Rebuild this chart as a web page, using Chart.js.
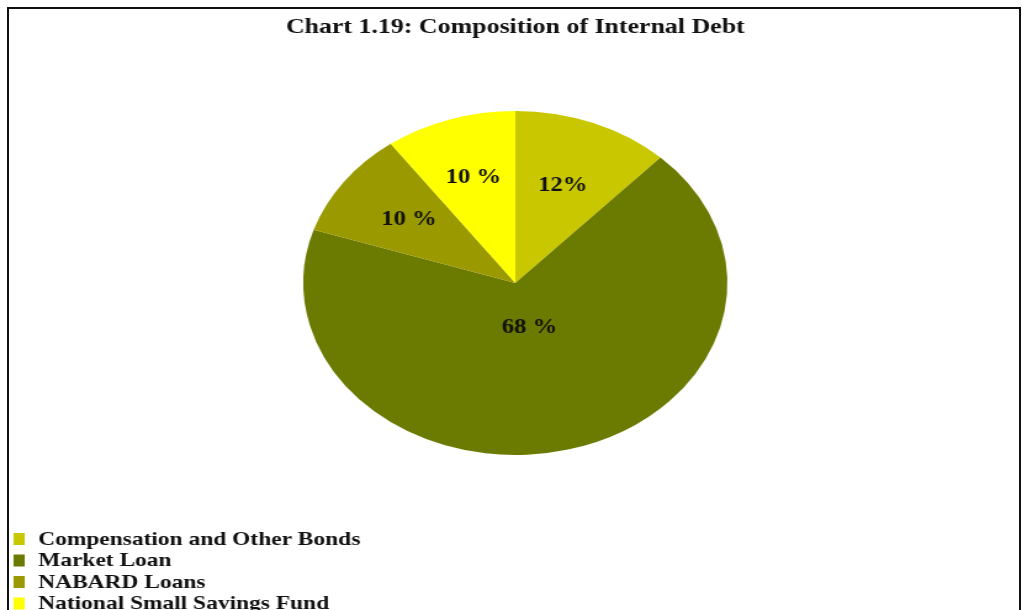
<!DOCTYPE html>
<html>
<head>
<meta charset="utf-8">
<script src="https://cdn.jsdelivr.net/npm/chart.js@4/dist/chart.umd.min.js"></script>
<style>
  html, body { margin: 0; padding: 0; background: #ffffff; }
  #wrap { position: relative; width: 1022px; height: 610px; overflow: hidden; }
  #chart { position: absolute; left: 0; top: 0; }
  #frame { position: absolute; left: 7px; top: 7px; width: 1014px; height: 640px;
           border: 2px solid #111; box-sizing: border-box; pointer-events: none; }
</style>
</head>
<body>
<div id="wrap">
  <canvas id="chart" width="829" height="610" style="width:1022px;height:610px;"></canvas>
  <div id="frame"></div>
</div>
<script>
// Composition of internal debt (per cent of total)
const chartTitle = 'Chart 1.19: Composition of Internal Debt';
const categories = ['Compensation and Other Bonds', 'Market Loan', 'NABARD Loans', 'National Small Savings Fund'];
const shares = [12, 68, 10, 10];
const shareLabels = ['12%', '68 %', '10 %', '10 %'];
const sliceColors = ['#c9c800', '#6b7a00', '#9a9a00', '#ffff00'];
// how far out along each slice's middle the value text sits (fraction of radius)
const labelRadius = [0.61, 0.27, 0.62, 0.64];

const serif = '"Liberation Serif", "Times New Roman", serif';

// value text inside each slice
const sliceLabels = {
  id: 'sliceLabels',
  afterDatasetsDraw(chart) {
    const ctx = chart.ctx;
    const arcs = chart.getDatasetMeta(0).data;
    ctx.save();
    ctx.font = 'bold 20px ' + serif;
    ctx.fillStyle = '#111';
    ctx.textAlign = 'center';
    ctx.textBaseline = 'middle';
    arcs.forEach((arc, i) => {
      const mid = (arc.startAngle + arc.endAngle) / 2;
      const r = arc.outerRadius * labelRadius[i];
      ctx.fillText(shareLabels[i], arc.x + Math.cos(mid) * r, arc.y + Math.sin(mid) * r);
    });
    ctx.restore();
  }
};

// heading and the key in the lower-left corner
const headingAndKey = {
  id: 'headingAndKey',
  afterDraw(chart) {
    const ctx = chart.ctx;
    const arcs = chart.getDatasetMeta(0).data;
    ctx.save();
    ctx.fillStyle = '#111';
    ctx.font = 'bold 21px ' + serif;
    ctx.textAlign = 'center';
    ctx.textBaseline = 'middle';
    ctx.fillText(chartTitle, arcs[0].x, 28);

    ctx.font = 'bold 19px ' + serif;
    ctx.textAlign = 'left';
    categories.forEach((name, i) => {
      const y = 539 + i * 21.5;
      ctx.fillStyle = sliceColors[i];
      ctx.fillRect(11, y - 6, 9, 12);
      ctx.fillStyle = '#111';
      ctx.fillText(name, 31, y + 1);
    });
    ctx.restore();
  }
};

new Chart(document.getElementById('chart'), {
  type: 'pie',
  data: {
    labels: categories,
    datasets: [{
      data: shares,
      backgroundColor: sliceColors,
      borderWidth: 0
    }]
  },
  options: {
    responsive: false,
    devicePixelRatio: 1,
    animation: false,
    events: [],
    layout: { padding: { left: 246, right: 239, top: 111, bottom: 155 } },
    plugins: {
      legend: { display: false },
      title: { display: false },
      tooltip: { enabled: false }
    }
  },
  plugins: [sliceLabels, headingAndKey]
});
</script>
</body>
</html>
